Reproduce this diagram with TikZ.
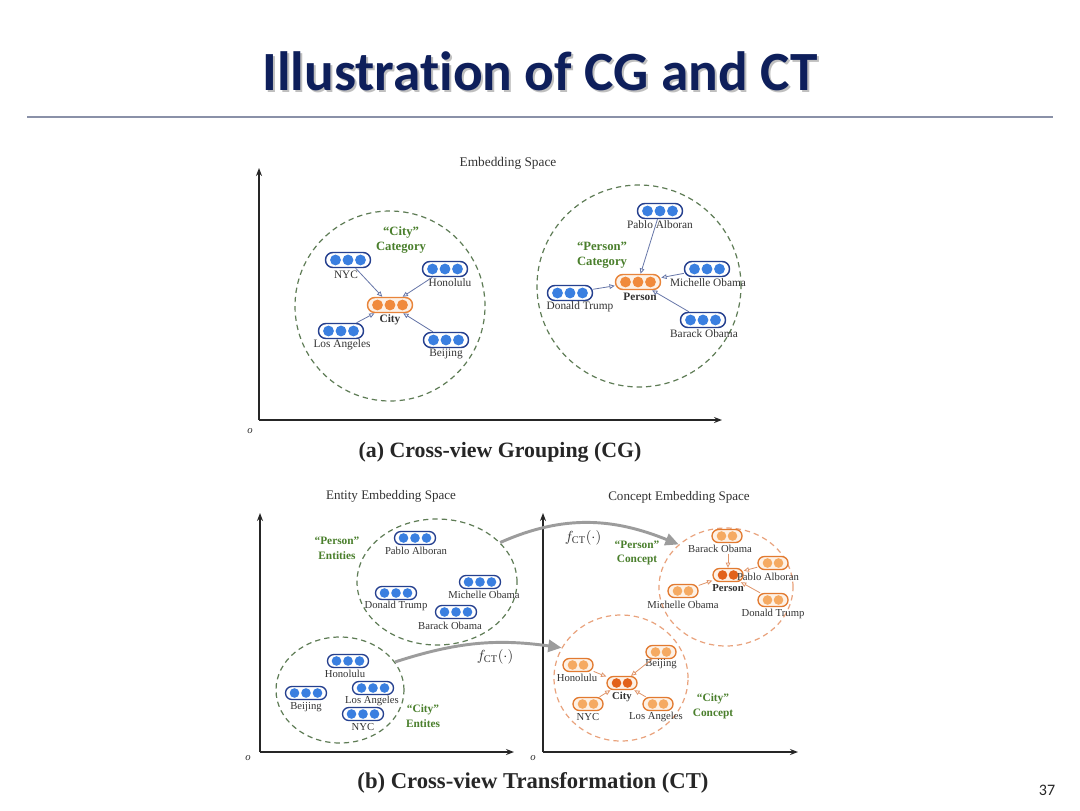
\documentclass[tikz,border=0pt]{standalone}
\usepackage{fontspec}
\setmainfont{Liberation Serif}
\newfontfamily\titlefont[Ligatures=NoCommon]{Carlito}
\usetikzlibrary{arrows.meta,shapes.geometric,calc}
\definecolor{navy}{HTML}{0E1F5B}
\definecolor{rulecol}{HTML}{8A91A8}
\definecolor{boxblue}{HTML}{25408F}
\definecolor{dotblue}{HTML}{3A7FE0}
\definecolor{orbox}{HTML}{E8843A}
\definecolor{ordot}{HTML}{F08A3C}
\definecolor{orfill}{HTML}{FDF1E6}
\definecolor{cbox}{HTML}{E27A30}
\definecolor{cdot}{HTML}{F5AA62}
\definecolor{cdark}{HTML}{E2621B}
\definecolor{catgreen}{HTML}{4A7F2C}
\definecolor{grpgreen}{HTML}{5E7C55}
\definecolor{grporange}{HTML}{E9A27C}
\definecolor{conncol}{HTML}{6676A8}
\definecolor{conncolC}{HTML}{E0956A}
\definecolor{fctgray}{HTML}{9C9C9C}
\newcommand\vecnode[9]{%
  \node[box#9, minimum width=#4*0.75pt, minimum height=#5*0.75pt] (#1) at (#2,#3) {};
  \foreach \k in {1,...,#6}{\fill[dot#9] ({#2+(\k-(#6+1)/2)*#7},#3) circle[radius=#8];}%
}
\begin{document}
\begin{tikzpicture}[x=0.75pt,y=-0.75pt,
  boxA/.style={draw=boxblue, line width=1.1pt, rounded corners=5.5pt, fill=white, inner sep=0pt},
  dotA/.style={fill=dotblue},
  boxO/.style={draw=orbox, line width=1.1pt, rounded corners=5.5pt, fill=orfill, inner sep=0pt},
  dotO/.style={fill=ordot},
  boxS/.style={draw=boxblue, line width=1pt, rounded corners=4.8pt, fill=white, inner sep=0pt},
  dotS/.style={fill=dotblue},
  boxC/.style={draw=cbox, line width=1pt, rounded corners=4.8pt, fill=orfill, inner sep=0pt},
  dotC/.style={fill=cdot},
  boxD/.style={draw=cbox, line width=1pt, rounded corners=4.8pt, fill=orfill, inner sep=0pt},
  dotD/.style={fill=cdark},
  lblA/.style={font=\fontsize{8.5}{9}\selectfont, text=black!80, inner sep=0.5pt},
  lblB/.style={font=\fontsize{8}{9}\selectfont, text=black!80, inner sep=0.5pt},
  cat/.style={font=\bfseries\fontsize{9.5}{11.3}\selectfont, text=catgreen, align=center, inner sep=0pt},
  catB/.style={font=\bfseries\fontsize{8.5}{11}\selectfont, text=catgreen, align=center, inner sep=0pt},
  spacelbl/.style={font=\fontsize{10}{12}\selectfont, text=black!80},
  conn/.style={draw=conncol, line width=0.6pt, -{Triangle[open,length=4pt,width=3.5pt]}},
  connC/.style={draw=conncolC, line width=0.6pt, -{Triangle[open,length=4pt,width=3.5pt]}},
  axisline/.style={line width=1.1pt, black!85, -{Stealth[length=6pt,width=4.5pt]}},
  grp/.style={ellipse, draw=grpgreen, dash pattern=on 4pt off 3pt, line width=0.9pt, inner sep=0pt},
  grpC/.style={ellipse, draw=grporange, dash pattern=on 4pt off 3pt, line width=0.9pt, inner sep=0pt},
  fct/.style={draw=fctgray, line width=2.2pt, -{Triangle[length=10pt,width=9pt]}},
  olbl/.style={font=\itshape\fontsize{8}{9}\selectfont, text=black!80},
  caption/.style={font=\bfseries\fontsize{16.4}{19}\selectfont, text=black!85}
]
\useasboundingbox (0,0) rectangle (1080,810);
\fill[white] (0,0) rectangle (1080,810);

% Title
\node[font=\titlefont\bfseries\fontsize{41.5}{50}\selectfont, text=black!25, anchor=base] (titleshadow) at (542,92) {Illustration of CG and CT};
\node[font=\titlefont\bfseries\fontsize{41.5}{50}\selectfont, text=navy, anchor=base] (title) at (540,90) {Illustration of CG and CT};
\coordinate (ruleL) at (27,117);
\coordinate (ruleR) at (1053,117);
\draw[rulecol, line width=2pt] (ruleL) -- (ruleR);

% ===================== Panel (a) =====================
\node[spacelbl] (embA) at (508,163) {Embedding Space};
\coordinate (oA) at (259,420);
\coordinate (yA) at (259,168);
\coordinate (xA) at (722,420);
\draw[axisline] (oA) -- (yA);
\draw[axisline] (oA) -- (xA);
\node[olbl] (oAl) at (250,431) {o};

\node[grp, minimum width=190*0.75pt, minimum height=190*0.75pt] (cityG) at (390,306) {};
\node[grp, minimum width=204*0.75pt, minimum height=202*0.75pt] (persG) at (639,286) {};

\node[cat] (cityCat) at (401,240) {“City”\\Category};
\node[cat] (persCat) at (602,255) {“Person”\\Category};

\vecnode{nyc}{348}{260}{45}{15}{3}{12.5}{5.4}{A}
\vecnode{hon}{445}{269}{45}{15}{3}{12.5}{5.4}{A}
\vecnode{city}{390}{305}{45}{15}{3}{12.5}{5.4}{O}
\vecnode{la}{341}{331}{45}{15}{3}{12.5}{5.4}{A}
\vecnode{bj}{446}{340}{45}{15}{3}{12.5}{5.4}{A}
\node[lblA] (nycL) at (346,275) {NYC};
\node[lblA] (honL) at (450,283) {Honolulu};
\node[lblA, font=\bfseries\fontsize{8.5}{9}\selectfont] (cityL) at (390,320) {City};
\node[lblA] (laL) at (342,345) {Los Angeles};
\node[lblA] (bjL) at (446,354) {Beijing};
\draw[conn] (nyc) -- (city);
\draw[conn] (hon) -- (city);
\draw[conn] (la) -- (city);
\draw[conn] (bj) -- (city);

\vecnode{pab}{660}{211}{45}{15}{3}{12.5}{5.4}{A}
\vecnode{pers}{638}{282}{45}{15}{3}{12.5}{5.4}{O}
\vecnode{mic}{707}{269}{45}{15}{3}{12.5}{5.4}{A}
\vecnode{dt}{570}{293}{45}{15}{3}{12.5}{5.4}{A}
\vecnode{bo}{703}{320}{45}{15}{3}{12.5}{5.4}{A}
\node[lblA] (pabL) at (660,225) {Pablo Alboran};
\node[lblA, font=\bfseries\fontsize{8.5}{9}\selectfont] (persL) at (640,297) {Person};
\node[lblA] (micL) at (708,283) {Michelle Obama};
\node[lblA] (dtL) at (580,307) {Donald Trump};
\node[lblA] (boL) at (704,334) {Barack Obama};
\draw[conn] (pab) -- (pers);
\draw[conn] (mic) -- (pers);
\draw[conn] (dt) -- (pers);
\draw[conn] (bo) -- (pers);

\node[caption] (capA) at (500,452) {(a) Cross-view Grouping (CG)};

% ===================== Panel (b) =====================
\node[spacelbl, font=\fontsize{9.8}{12}\selectfont] (embE) at (391,496) {Entity Embedding Space};
\node[spacelbl, font=\fontsize{9.8}{12}\selectfont] (embC) at (679,497) {Concept Embedding Space};
\coordinate (oB) at (260,752);
\coordinate (yB) at (260,513);
\coordinate (xB) at (514,752);
\draw[axisline] (oB) -- (yB);
\draw[axisline] (oB) -- (xB);
\node[olbl] (oBl) at (248,758) {o};
\coordinate (oC) at (543,752);
\coordinate (yC) at (543,513);
\coordinate (xC) at (798,752);
\draw[axisline] (oC) -- (yC);
\draw[axisline] (oC) -- (xC);
\node[olbl] (oCl) at (533,758) {o};

% entity groups
\node[grp, minimum width=160*0.75pt, minimum height=126*0.75pt] (pent) at (437,582) {};
\node[grp, minimum width=128*0.75pt, minimum height=106*0.75pt] (cent) at (340,690) {};
\node[catB] (pentCat) at (337,548) {“Person”\\Entities};
\node[catB] (centCat) at (423,716) {“City”\\Entites};

\vecnode{pabE}{415}{538}{41}{13}{3}{11.5}{4.8}{S}
\vecnode{dtE}{396}{593}{41}{13}{3}{11.5}{4.8}{S}
\vecnode{moE}{480}{582}{41}{13}{3}{11.5}{4.8}{S}
\vecnode{boE}{456}{612}{41}{13}{3}{11.5}{4.8}{S}
\node[lblB] (pabEL) at (416,551) {Pablo Alboran};
\node[lblB] (dtEL) at (396,606) {Donald Trump};
\node[lblB] (moEL) at (484,595) {Michelle Obama};
\node[lblB] (boEL) at (450,626) {Barack Obama};

\vecnode{honE}{348}{661}{41}{13}{3}{11.5}{4.8}{S}
\vecnode{bjE}{306}{693}{41}{13}{3}{11.5}{4.8}{S}
\vecnode{laE}{373}{688}{41}{13}{3}{11.5}{4.8}{S}
\vecnode{nycE}{363}{714}{41}{13}{3}{11.5}{4.8}{S}
\node[lblB] (honEL) at (345,674) {Honolulu};
\node[lblB] (bjEL) at (306,707) {Beijing};
\node[lblB] (laEL) at (372,701) {Los Angeles};
\node[lblB] (nycEL) at (363,727) {NYC};

% concept groups
\node[grpC, minimum width=134*0.75pt, minimum height=118*0.75pt] (pcon) at (726,587) {};
\node[grpC, minimum width=134*0.75pt, minimum height=126*0.75pt] (ccon) at (621,678) {};
\node[catB] (pconCat) at (637,553) {“Person”\\Concept};
\node[catB] (cconCat) at (713,706) {“City”\\Concept};

\vecnode{boC}{727}{536}{30}{13}{2}{11}{4.8}{C}
\vecnode{pC}{728}{575}{30}{13}{2}{11}{4.8}{D}
\vecnode{paC}{773}{563}{30}{13}{2}{11}{4.8}{C}
\vecnode{moC}{683}{591}{30}{13}{2}{11}{4.8}{C}
\vecnode{dtC}{773}{600}{30}{13}{2}{11}{4.8}{C}
\node[lblB] (boCL) at (720,549) {Barack Obama};
\node[lblB, font=\bfseries\fontsize{8}{9}\selectfont] (pCL) at (728,588) {Person};
\node[lblB] (paCL) at (768,577) {Pablo Alboran};
\node[lblB] (moCL) at (683,605) {Michelle Obama};
\node[lblB] (dtCL) at (773,614) {Donald Trump};
\draw[connC] (pC.north |- boCL.south) -- (pC.north);
\draw[connC] (paC) -- (pC);
\draw[connC] (moC) -- (pC);
\draw[connC] (dtC) -- (pC);

\vecnode{honC}{578}{665}{30}{13}{2}{11}{4.8}{C}
\vecnode{bjC}{661}{652}{30}{13}{2}{11}{4.8}{C}
\vecnode{cC}{622}{683}{30}{13}{2}{11}{4.8}{D}
\vecnode{nycC}{588}{704}{30}{13}{2}{11}{4.8}{C}
\vecnode{laC}{658}{704}{30}{13}{2}{11}{4.8}{C}
\node[lblB] (honCL) at (577,678) {Honolulu};
\node[lblB] (bjCL) at (661,664) {Beijing};
\node[lblB, font=\bfseries\fontsize{8}{9}\selectfont] (cCL) at (622,697) {City};
\node[lblB] (nycCL) at (588,717) {NYC};
\node[lblB] (laCL) at (656,717) {Los Angeles};
\draw[connC] (honC) -- (cC);
\draw[connC] (bjC) -- (cC);
\draw[connC] (nycC) -- (cC);
\draw[connC] (laC) -- (cC);

% transformation arrows
\draw[fct] (pent.32) to[out=24, in=158] (pcon.138);
\draw[fct] (cent.27) to[out=18, in=172] (ccon.153);
\node[font=\fontsize{11}{12}\selectfont, text=black!80] (fct1) at (583,538) {$f_{\mathrm{CT}}(\cdot)$};
\node[font=\fontsize{11}{12}\selectfont, text=black!80] (fct2) at (495,657) {$f_{\mathrm{CT}}(\cdot)$};

\node[caption, font=\bfseries\fontsize{17}{19}\selectfont] (capB) at (533,783) {(b) Cross-view Transformation (CT)};

\node[font=\titlefont\fontsize{12}{14}\selectfont, text=black!85] (pg) at (1047,790) {37};
\end{tikzpicture}
\end{document}
